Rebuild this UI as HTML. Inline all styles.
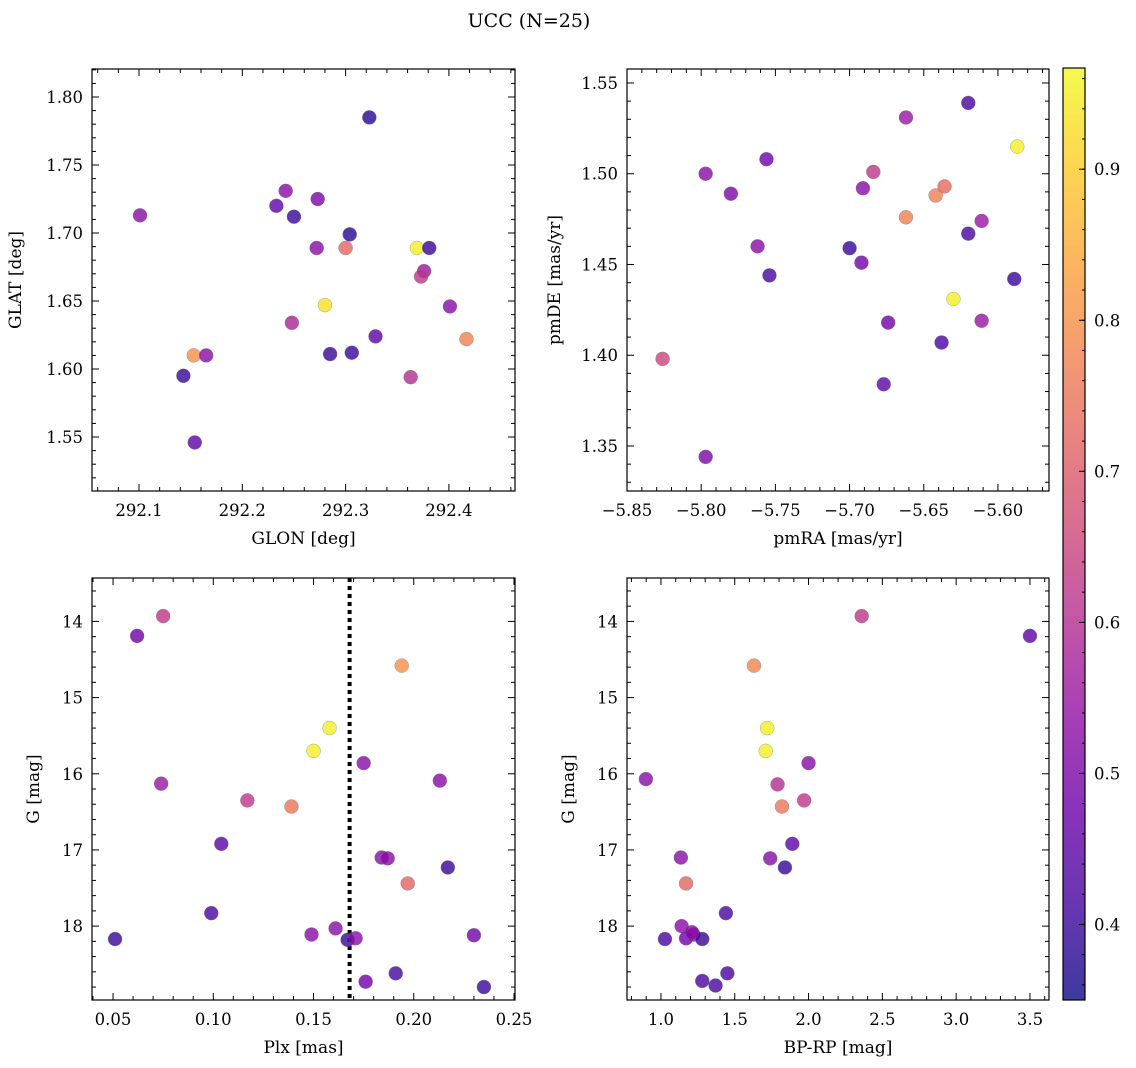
<!DOCTYPE html>
<html><head><meta charset="utf-8">
<style>
html,body{margin:0;padding:0;background:#fff;}
svg{display:block;font-family:"DejaVu Serif","Liberation Serif",serif;}
</style></head>
<body>
<svg id="fig" width="1136" height="1068" viewBox="0 0 1136 1068" xmlns="http://www.w3.org/2000/svg">
<rect width="1136" height="1068" fill="#fff"/>
<text x="529" y="27" font-size="19" text-anchor="middle">UCC (N=25)</text>
</svg>
<script>
// ---- data ----
const p1Glon=[292.101,292.323,292.242,292.233,292.250,292.273,292.304,292.272,292.300,292.369,292.381,292.376,292.373,292.401,292.280,292.248,292.329,292.417,292.285,292.306,292.153,292.165,292.143,292.363,292.154];
const p1Glat=[1.713,1.785,1.731,1.720,1.712,1.725,1.699,1.689,1.689,1.689,1.689,1.672,1.668,1.646,1.647,1.634,1.624,1.622,1.611,1.612,1.610,1.610,1.595,1.594,1.546];
const p1Prob=[0.52,0.38,0.52,0.45,0.40,0.50,0.38,0.52,0.72,0.95,0.40,0.55,0.62,0.52,0.93,0.58,0.45,0.77,0.40,0.40,0.80,0.52,0.40,0.60,0.45];

const p2Pmra=[-5.826,-5.797,-5.797,-5.780,-5.762,-5.756,-5.754,-5.700,-5.692,-5.691,-5.684,-5.674,-5.677,-5.662,-5.662,-5.642,-5.636,-5.630,-5.638,-5.620,-5.620,-5.611,-5.611,-5.587,-5.589];
const p2Pmde=[1.398,1.500,1.344,1.489,1.460,1.508,1.444,1.459,1.451,1.492,1.501,1.418,1.384,1.531,1.476,1.488,1.493,1.431,1.407,1.539,1.467,1.474,1.419,1.515,1.442];
const p2Prob=[0.65,0.52,0.50,0.50,0.52,0.48,0.42,0.40,0.48,0.52,0.62,0.48,0.45,0.55,0.77,0.77,0.73,0.95,0.42,0.42,0.42,0.55,0.55,0.95,0.40];

const p3Plx=[0.051,0.062,0.075,0.074,0.104,0.099,0.117,0.139,0.158,0.150,0.149,0.161,0.167,0.171,0.175,0.176,0.184,0.187,0.194,0.197,0.191,0.213,0.217,0.230,0.235];
const p3G=[18.17,14.19,13.93,16.13,16.92,17.83,16.35,16.43,15.40,15.70,18.11,18.03,18.18,18.16,15.86,18.73,17.10,17.11,14.58,17.44,18.62,16.09,17.23,18.12,18.80];
const p3Prob=[0.40,0.48,0.62,0.55,0.45,0.42,0.62,0.75,0.95,0.95,0.52,0.52,0.40,0.52,0.52,0.48,0.52,0.52,0.80,0.72,0.42,0.52,0.40,0.48,0.40];
const plxCut=0.168;

const p4Bprp=[0.898,1.027,1.135,1.14,1.17,1.17,1.22,1.28,1.28,1.37,1.45,1.44,1.63,1.72,1.71,1.74,1.79,1.82,1.84,1.89,1.97,2.00,2.36,3.50,1.21];
const p4G=[16.07,18.17,17.10,18.00,17.44,18.16,18.11,18.17,18.72,18.78,18.62,17.83,14.58,15.40,15.70,17.11,16.14,16.43,17.23,16.92,16.35,15.86,13.93,14.19,18.08];
const p4Prob=[0.52,0.42,0.52,0.52,0.72,0.48,0.52,0.40,0.42,0.42,0.42,0.42,0.78,0.95,0.95,0.52,0.60,0.75,0.40,0.45,0.62,0.52,0.62,0.45,0.52];

const cbTicks=[0.4,0.5,0.6,0.7,0.8,0.9];
const vmin=0.35, vmax=0.967;

// ---- helpers ----
const NS="http://www.w3.org/2000/svg";
const svg=document.getElementById('fig');
function mk(tag,attrs,parent){const e=document.createElementNS(NS,tag);for(const k in attrs)e.setAttribute(k,attrs[k]);(parent||svg).appendChild(e);return e;}
const plasma=[[13,8,135],[65,4,157],[106,0,168],[143,13,164],[177,42,144],[204,71,120],[225,100,98],[242,132,75],[252,166,54],[252,206,37],[240,249,33]];
function cmap(v){let t=(v-vmin)/(vmax-vmin);t=Math.max(0,Math.min(1,t))*10;const i=Math.min(9,Math.floor(t)),f=t-i;const a=plasma[i],b=plasma[i+1];return 'rgb('+a.map((c,k)=>Math.round(c+(b[k]-c)*f)).join(',')+')';}
function fmt(v,d){const s=v.toFixed(d);return s.replace('-','\u2212');}

function panel(o){
  const g=mk('g',{});
  
  
  const X=v=>o.x0+(v-o.xmin)/(o.xmax-o.xmin)*(o.x1-o.x0);
  const Y=v=>o.yinv? o.y0+(v-o.ymin)/(o.ymax-o.ymin)*(o.y1-o.y0) : o.y1-(v-o.ymin)/(o.ymax-o.ymin)*(o.y1-o.y0);
  const tg=mk('g',{stroke:'#000','stroke-width':1},g);
  
  
  const eps=1e-9;
  for(let v=Math.ceil(o.xmin/o.xminor-eps)*o.xminor;v<=o.xmax+eps;v+=o.xminor){
    const major=Math.abs(v/o.xmajor-Math.round(v/o.xmajor))<1e-6;const L=major?7:4;const x=X(v);
    mk('line',{x1:x,x2:x,y1:o.y1,y2:o.y1-L},tg);mk('line',{x1:x,x2:x,y1:o.y0,y2:o.y0+L},tg);
    if(major){const t=mk('text',{x:x,y:o.y1+25,'font-size':16.5,'text-anchor':'middle',stroke:'none'},g);t.textContent=fmt(Math.round(v/o.xmajor)*o.xmajor,o.xd);
      }
  }
  for(let v=Math.ceil(o.ymin/o.yminor-eps)*o.yminor;v<=o.ymax+eps;v+=o.yminor){
    const major=Math.abs(v/o.ymajor-Math.round(v/o.ymajor))<1e-6;const L=major?7:4;const y=Y(v);
    mk('line',{x1:o.x0,x2:o.x0+L,y1:y,y2:y},tg);mk('line',{x1:o.x1,x2:o.x1-L,y1:y,y2:y},tg);
    if(major){const t=mk('text',{x:o.x0-9,y:y+6,'font-size':16.5,'text-anchor':'end',stroke:'none'},g);t.textContent=fmt(Math.round(v/o.ymajor)*o.ymajor,o.yd);
      }
  }
  if(o.vline!==undefined){const vl=mk('line',{x1:X(o.vline),x2:X(o.vline),y1:o.y0,y2:o.y1,stroke:'#000','stroke-width':4,'stroke-dasharray':'4 4'},g);
    }
  const pg=mk('g',{},g);
  
  
  for(let i=0;i<o.xs.length;i++){
    const c=mk('circle',{cx:X(o.xs[i]),cy:Y(o.ys[i]),r:7,fill:cmap(o.cs[i]),'fill-opacity':0.8,stroke:'#777','stroke-opacity':0.6,'stroke-width':0.5},pg);
    
    
  }
  const fr=mk('rect',{x:o.x0,y:o.y0,width:o.x1-o.x0,height:o.y1-o.y0,fill:'none',stroke:'#000','stroke-width':1.2},g);
  
  const xl=mk('text',{x:(o.x0+o.x1)/2,y:o.y1+53,'font-size':17,'text-anchor':'middle'},g);xl.textContent=o.xlabel;
  
  const yx=o.x0-o.ylabOff,yy=(o.y0+o.y1)/2;
  const yl=mk('text',{x:yx,y:yy,'font-size':17,'text-anchor':'middle',transform:'rotate(-90 '+yx+' '+yy+')'},g);yl.textContent=o.ylabel;
  
}

panel({name:'glon-glat-panel',x0:92,x1:515,y0:69,y1:491,xmin:292.0545,xmax:292.464,ymin:1.5103,ymax:1.8206,xmajor:0.1,xminor:0.02,ymajor:0.05,yminor:0.01,xd:1,yd:2,xs:p1Glon,ys:p1Glat,cs:p1Prob,xlabel:'GLON [deg]',ylabel:'GLAT [deg]',ylabOff:71});
panel({name:'pm-panel',x0:627,x1:1049,y0:69,y1:491,xmin:-5.85,xmax:-5.5656,ymin:1.3252,ymax:1.5577,xmajor:0.05,xminor:0.01,ymajor:0.05,yminor:0.01,xd:2,yd:2,xs:p2Pmra,ys:p2Pmde,cs:p2Prob,xlabel:'pmRA [mas/yr]',ylabel:'pmDE [mas/yr]',ylabOff:67});
panel({name:'plx-g-panel',x0:92,x1:515,y0:578,y1:1000,xmin:0.0395,xmax:0.2505,ymin:13.43,ymax:18.97,yinv:true,xmajor:0.05,xminor:0.01,ymajor:1,yminor:0.2,xd:2,yd:0,xs:p3Plx,ys:p3G,cs:p3Prob,vline:plxCut,xlabel:'Plx [mas]',ylabel:'G [mag]',ylabOff:53});
panel({name:'cmd-panel',x0:627,x1:1049,y0:578,y1:1000,xmin:0.770,xmax:3.629,ymin:13.43,ymax:18.97,yinv:true,xmajor:0.5,xminor:0.1,ymajor:1,yminor:0.2,xd:1,yd:0,xs:p4Bprp,ys:p4G,cs:p4Prob,xlabel:'BP-RP [mag]',ylabel:'G [mag]',ylabOff:53});

// colorbar
const cb=mk('g',{});


const cbx0=1063,cbx1=1085,cby0=68,cby1=1000;
const defs=mk('defs',{},svg);
const lg=mk('linearGradient',{id:'cbg',x1:0,y1:1,x2:0,y2:0},defs);
for(let i=0;i<=10;i++){mk('stop',{offset:i/10,'stop-color':'rgb('+plasma[i].join(',')+')','stop-opacity':0.8},lg);}
mk('rect',{x:cbx0,y:cby0,width:cbx1-cbx0,height:cby1-cby0,fill:'url(#cbg)',stroke:'#000','stroke-width':1.2},cb);
const CY=v=>cby1-(v-vmin)/(vmax-vmin)*(cby1-cby0);
for(let v=0.36;v<=vmax;v+=0.02){const y=CY(v);mk('line',{x1:cbx1,x2:cbx1-3,y1:y,y2:y,stroke:'#000'},cb);}
for(const v of cbTicks){const y=CY(v);mk('line',{x1:cbx1,x2:cbx1-6,y1:y,y2:y,stroke:'#000'},cb);
  const t=mk('text',{x:cbx1+9,y:y+6,'font-size':16.5},cb);t.textContent=v.toFixed(1);
  }
</script>
</body></html>
